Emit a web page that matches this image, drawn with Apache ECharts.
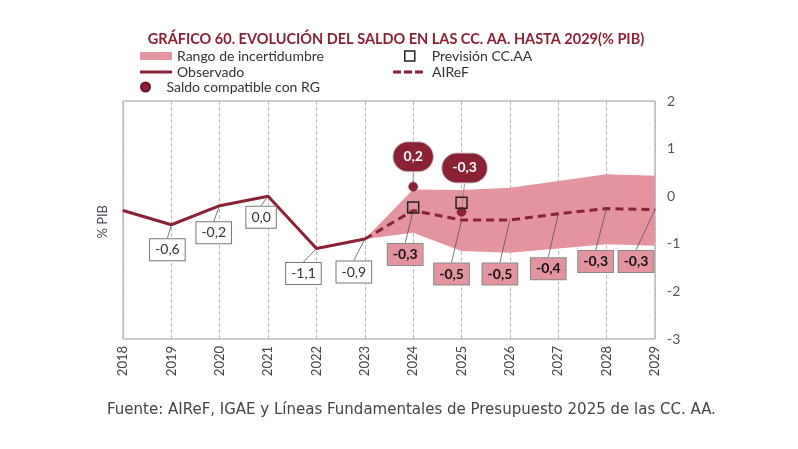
<!DOCTYPE html>
<html>
<head>
<meta charset="utf-8">
<script src="https://cdn.jsdelivr.net/npm/echarts@6/dist/echarts.min.js"></script>
<style>html,body{margin:0;padding:0;background:#fff;}#c{width:798px;height:449px;}</style>
</head>
<body>
<div id="c"></div>
<script>
const years = ['2018','2019','2020','2021','2022','2023','2024','2025','2026','2027','2028','2029'];
const observado = [-0.3, -0.6, -0.2, 0.0, -1.1, -0.9, null, null, null, null, null, null];
const airef = [null, null, null, null, null, -0.9, -0.3, -0.5, -0.5, -0.37, -0.26, -0.28];
const bandUpper = [null, null, null, null, null, -0.9, 0.14, 0.13, 0.18, 0.32, 0.46, 0.43];
const bandLower = [null, null, null, null, null, -0.9, -0.77, -1.15, -1.19, -1.10, -1.01, -1.04];
const previsionYears = ['2024', '2025'];
const previsionValues = [-0.24, -0.14];
const rgYears = ['2024', '2025'];
const rgValues = [0.2, -0.33];
const yTicks = [-3, -2, -1, 0, 1, 2];

const DARK = '#8B2134';
const PINK = '#E3949F';
const FONT = 'Lato';
const fmt = v => (Math.round(v * 10) / 10).toFixed(1).replace('.', ',');

// label offsets (layout, px)
const obsOff = [[0,0],[-4,25],[-6,27],[-7,21],[-13,25],[-11,33]];
const airOff = {6:[-8,44],7:[-10,54],8:[-10,54],9:[-10,55],10:[-11,53],11:[-19,52]};
const rgOff = [[0,-30],[3,-44]];

const chart = echarts.init(document.getElementById('c'));

const bandDiff = bandUpper.map((u, i) => (u == null ? null : +(u - bandLower[i]).toFixed(3)));

const legendBase = {
  textStyle: { fontFamily: FONT, fontSize: 14, color: '#333' },
  selectedMode: false,
  padding: 0,
  itemGap: 0
};

chart.setOption({
  animation: false,
  title: {
    text: 'GRÁFICO 60. EVOLUCIÓN DEL SALDO EN LAS CC. AA. HASTA 2029(% PIB)',
    left: 391, top: 27, textAlign: 'center',
    textStyle: { fontFamily: FONT, fontSize: 14.5, fontWeight: 'bold', color: DARK }
  },
  legend: [
    Object.assign({}, legendBase, { left: 140, top: 49, itemWidth: 32, itemHeight: 8,
      data: [{ name: 'Rango de incertidumbre', icon: 'rect', itemStyle: { color: PINK } }] }),
    Object.assign({}, legendBase, { left: 140, top: 65, itemWidth: 32, itemHeight: 3,
      data: [{ name: 'Observado', icon: 'rect', itemStyle: { color: DARK } }] }),
    Object.assign({}, legendBase, { left: 140, top: 80, itemWidth: 32, itemHeight: 9,
      data: [{ name: 'Saldo compatible con RG', icon: 'circle', itemStyle: { color: DARK } }] }),
    Object.assign({}, legendBase, { left: 404, top: 49, itemWidth: 10, itemHeight: 10,
      textStyle: { fontFamily: FONT, fontSize: 14, color: '#333', padding: [0, 0, 0, 12] },
      data: [{ name: 'Previsión CC.AA', icon: 'path://M0,0h10v10h-10z', itemStyle: { color: 'transparent', borderColor: '#222', borderWidth: 1.5 } }] }),
    Object.assign({}, legendBase, { left: 393, top: 65, itemWidth: 30, itemHeight: 3,
      textStyle: { fontFamily: FONT, fontSize: 14, color: '#333', padding: [0, 0, 0, 4] },
      data: [{ name: 'AIReF', icon: 'path://M0,0h8v3h-8z M11,0h8v3h-8z M22,0h8v3h-8z', itemStyle: { color: DARK } }] })
  ],
  grid: { left: 123, right: 143, top: 101, bottom: 110, show: true, borderColor: '#999', borderWidth: 1, backgroundColor: 'transparent' },
  xAxis: {
    type: 'category', data: years, boundaryGap: false,
    axisLine: { show: false }, axisTick: { show: false },
    axisLabel: { rotate: 90, fontFamily: FONT, fontSize: 13, color: '#444', margin: 7 },
    splitLine: { show: true, lineStyle: { type: 'dashed', color: '#bbb', width: 1 } }
  },
  yAxis: {
    type: 'value', position: 'right', min: yTicks[0], max: yTicks[yTicks.length - 1], interval: 1,
    axisLine: { show: false }, axisTick: { show: false }, splitLine: { show: false },
    axisLabel: { fontFamily: FONT, fontSize: 14, color: '#555', margin: 12 }
  },
  graphic: [
    { type: 'text', left: 96, top: 205, rotation: Math.PI / 2,
      style: { text: '% PIB', font: '13px ' + FONT, fill: '#4a4a5a' } },
    { type: 'text', left: 107, top: 403,
      style: { text: 'Fuente: AIReF, IGAE y Líneas Fundamentales de Presupuesto 2025 de las CC. AA.', font: '15px "DejaVu Sans"', fill: '#444' } }
  ],
  series: [
    { name: 'bandLower', type: 'line', stack: 'band', stackStrategy: 'all', data: bandLower,
      symbol: 'none', lineStyle: { opacity: 0 }, silent: true, z: 1 },
    { name: 'Rango de incertidumbre', type: 'line', stack: 'band', stackStrategy: 'all', data: bandDiff,
      symbol: 'none', lineStyle: { opacity: 0 }, areaStyle: { color: PINK, opacity: 1 }, itemStyle: { color: PINK }, silent: true, z: 1 },
    { name: 'Observado', type: 'line', data: observado.map((v, i) => (i === 0 || v == null) ? { value: v, label: { show: false } } : v),
      symbol: 'circle', symbolSize: 1, showSymbol: true, itemStyle: { color: DARK },
      lineStyle: { color: DARK, width: 3 }, z: 3,
      label: { show: true, position: 'inside', formatter: p => fmt(p.value),
        fontFamily: FONT, fontSize: 14, color: '#333', backgroundColor: '#fff', borderColor: '#777', borderWidth: 1, padding: [4, 5, 3, 5] },
      labelLine: { show: true, lineStyle: { color: '#555', width: 0.8 } },
      labelLayout: p => ({ dx: obsOff[p.dataIndex][0], dy: obsOff[p.dataIndex][1] })
    },
    { name: 'AIReF', type: 'line', data: airef.map((v, i) => (airOff[i] ? v : { value: v, label: { show: false } })),
      symbol: 'circle', symbolSize: 1, showSymbol: true, itemStyle: { color: DARK },
      lineStyle: { color: DARK, width: 3, type: [8, 5] }, z: 3,
      label: { show: true, position: 'inside', formatter: p => fmt(p.value),
        fontFamily: FONT, fontSize: 14, fontWeight: 'bold', color: '#111', backgroundColor: PINK, borderColor: '#888', borderWidth: 1, padding: [4, 5, 3, 5] },
      labelLine: { show: true, lineStyle: { color: '#555', width: 0.8 } },
      labelLayout: p => (airOff[p.dataIndex] ? { dx: airOff[p.dataIndex][0], dy: airOff[p.dataIndex][1] } : {})
    },
    { name: 'Previsión CC.AA', type: 'scatter', data: previsionYears.map((y, i) => [y, previsionValues[i]]),
      symbol: 'rect', symbolSize: 11, itemStyle: { color: 'transparent', borderColor: '#222', borderWidth: 1.5, opacity: 1 }, z: 5 },
    { name: 'Saldo compatible con RG', type: 'scatter', data: rgYears.map((y, i) => [y, rgValues[i]]),
      symbol: 'circle', symbolSize: 9, itemStyle: { color: DARK, borderColor: '#6a1525', borderWidth: 0.5, opacity: 1 }, z: 4,
      label: { show: true, position: 'inside', formatter: p => fmt(p.value[1]),
        fontFamily: FONT, fontSize: 14, fontWeight: 'bold', color: '#fff', backgroundColor: DARK, borderColor: '#ccc', borderWidth: 1,
        borderRadius: 15, padding: [8, 10, 7, 10] },
      labelLine: { show: true, lineStyle: { color: '#888', width: 0.8 } },
      labelLayout: p => ({ dx: rgOff[p.dataIndex][0], dy: rgOff[p.dataIndex][1] })
    }
  ]
});
</script>
</body>
</html>
